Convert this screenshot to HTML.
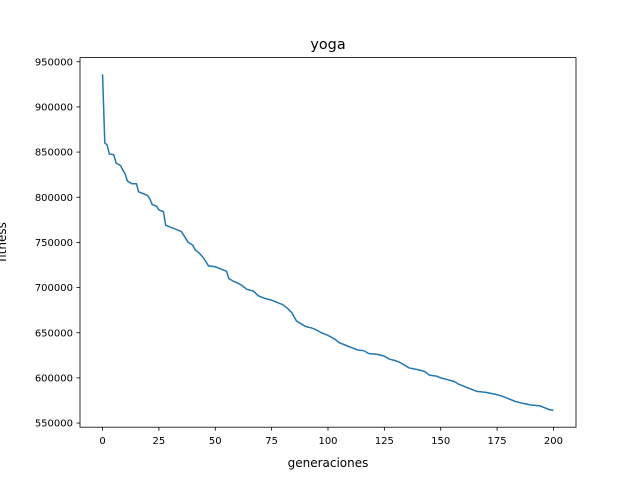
<!DOCTYPE html>
<html><head><meta charset="utf-8"><style>
body{margin:0;background:#fff;}
svg{display:block;font-family:"DejaVu Sans","Liberation Sans",sans-serif;}
</style></head><body>
<svg id="chart" width="640" height="480">
<rect x="0" y="0" width="640" height="480" fill="#fff"/>
<text x="328" y="49" text-anchor="middle" font-size="14.4">yoga</text>
<g id="xt"></g>
<g id="yt"></g>
<path id="line" fill="none" stroke="#1f77b4" stroke-width="1.5"/>
<rect x="80" y="57.6" width="496" height="369.6" fill="none" stroke="#000" stroke-width="0.8"/>
<text x="328" y="467" text-anchor="middle" font-size="12">generaciones</text>
<text transform="translate(6,242) rotate(-90)" text-anchor="middle" font-size="12">fitness</text>
</svg>
<script>
const gens=[0,1,2,3,5,6,8,9,10,11,13,15,16,18,20,21,22,24,25,27,28,30,32,35,36,38,40,41,43,45,47,50,52,55,56,58,60,62,64,67,69,72,75,78,80,82,84,86,88,90,93,95,97,100,103,105,108,110,113,116,118,122,125,127,130,132,134,136,140,143,145,148,150,153,156,158,160,163,166,170,174,177,180,183,186,190,194,196,198,200];
const fitness=[936000,860000,858000,848000,847000,838000,835000,830000,826000,818000,815000,815000,806000,804000,802000,798000,792000,790000,786000,784000,769000,767000,765000,762000,758000,750000,747000,742000,738000,732000,724000,723000,721000,718000,710000,707000,705000,702000,698000,696000,691000,688000,686000,683000,681000,677000,672000,663000,660000,657000,655000,653000,650000,647000,643000,639000,636000,634000,631000,630000,627000,626000,624000,621000,619000,617000,614000,611000,609000,607000,603000,602000,600000,598000,596000,593000,591000,588000,585000,584000,582000,580000,577000,574000,572000,570000,569000,567000,565000,564000];
const xTicks=[0,25,50,75,100,125,150,175,200];
const yTicks=[550000,600000,650000,700000,750000,800000,850000,900000,950000];
const L=80,R=576,T=57.6,B=427.2;
const xmin=-10,xmax=210,ymin=545400,ymax=954600;
const sx=v=>L+(v-xmin)/(xmax-xmin)*(R-L);
const sy=v=>B-(v-ymin)/(ymax-ymin)*(B-T);
const NS="http://www.w3.org/2000/svg";
const xt=document.getElementById('xt'),yt=document.getElementById('yt');
xTicks.forEach(t=>{
  const l=document.createElementNS(NS,'line');
  l.setAttribute('x1',sx(t));l.setAttribute('x2',sx(t));l.setAttribute('y1',B);l.setAttribute('y2',B+3.5);l.setAttribute('stroke','#000');l.setAttribute('stroke-width','0.8');
  
  
  xt.appendChild(l);
  const s=document.createElementNS(NS,'text');
  s.setAttribute('x',sx(t));s.setAttribute('y',B+17);s.setAttribute('text-anchor','middle');s.setAttribute('font-size','10');
  s.textContent=t;
  
  
  xt.appendChild(s);
});
yTicks.forEach(t=>{
  const l=document.createElementNS(NS,'line');
  l.setAttribute('x1',L-3.5);l.setAttribute('x2',L);l.setAttribute('y1',sy(t));l.setAttribute('y2',sy(t));l.setAttribute('stroke','#000');l.setAttribute('stroke-width','0.8');
  
  
  yt.appendChild(l);
  const s=document.createElementNS(NS,'text');
  s.setAttribute('x',L-7);s.setAttribute('y',sy(t)+3.6);s.setAttribute('text-anchor','end');s.setAttribute('font-size','10');
  s.textContent=t;
  
  
  yt.appendChild(s);
});
document.getElementById('line').setAttribute('d',gens.map((g,i)=>(i?'L':'M')+sx(g).toFixed(2)+' '+sy(fitness[i]).toFixed(2)).join(' '));
</script>
</body></html>
